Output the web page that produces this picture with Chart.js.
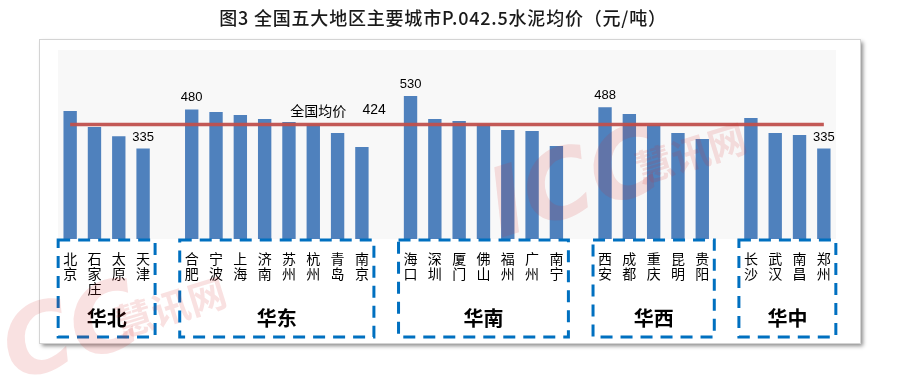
<!DOCTYPE html>
<html><head><meta charset="utf-8">
<script src="https://cdn.jsdelivr.net/npm/chart.js@4/dist/chart.umd.min.js"></script>
<style>html,body{margin:0;padding:0;background:#fff}#wrap{width:900px;height:379px;position:relative}</style>
</head><body><div id="wrap"><canvas id="c" width="900" height="379"></canvas></div>
<script>
const chartTitle = '图3 全国五大地区主要城市P.042.5水泥均价（元/吨）';
const regions = ['华北', '华东', '华南', '华西', '华中'];
const northCities = ['北京', '石家庄', '太原', '天津'];
const northPrices = [474, 415, 381, 335];
const eastCities = ['合肥', '宁波', '上海', '济南', '苏州', '杭州', '青岛', '南京'];
const eastPrices = [480, 470, 459, 444, 433, 425, 393, 341];
const southCities = ['海口', '深圳', '厦门', '佛山', '福州', '广州', '南宁'];
const southPrices = [530, 444, 437, 425, 404, 400, 344];
const westCities = ['西安', '成都', '重庆', '昆明', '贵阳'];
const westPrices = [488, 463, 422, 393, 370];
const centralCities = ['长沙', '武汉', '南昌', '郑州'];
const centralPrices = [448, 393, 385, 335];
const nationalAverage = 424;
const nationalLabel = '全国均价';
const labeledCities = ['天津', '合肥', '海口', '西安', '郑州'];
const yMin = 0, yMax = 700;

const groupCities = [northCities, eastCities, southCities, westCities, centralCities];
const groupPrices = [northPrices, eastPrices, southPrices, westPrices, centralPrices];

// build category list with an empty slot between regions
const categories = [], barValues = [], regionSpans = [];
groupCities.forEach((cities, g) => {
  if (g > 0) { categories.push(['']); barValues.push(null); }
  const start = categories.length;
  cities.forEach((c, i) => { categories.push(c.split('')); barValues.push(groupPrices[g][i]); });
  regionSpans.push([start, categories.length - 1]);
});
const cityNames = categories.map(a => a.join(''));
const avgValues = categories.map(() => nationalAverage);

const CJK = '"Noto Sans CJK SC", "Noto Sans", sans-serif';

const decor = {
  id: 'decor',
  beforeDraw(chart) {
    const ctx = chart.ctx, a = chart.chartArea;
    ctx.save();
    ctx.fillStyle = '#fff';
    ctx.fillRect(0, 0, chart.width, chart.height);
    // frame with shadow
    ctx.shadowColor = 'rgba(0,0,0,0.45)';
    ctx.shadowBlur = 4; ctx.shadowOffsetX = 3; ctx.shadowOffsetY = 3;
    ctx.fillStyle = '#fff';
    ctx.fillRect(39, 39, 821, 304);
    ctx.shadowColor = 'transparent';
    ctx.strokeStyle = '#d4d4d4'; ctx.lineWidth = 1;
    ctx.strokeRect(39.5, 39.5, 821, 304);
    // plot background
    ctx.fillStyle = '#f8f8f8';
    ctx.fillRect(a.left, a.top, a.right - a.left, a.bottom - a.top);
    // title
    ctx.fillStyle = '#1a1a1a';
    ctx.font = '500 18px ' + CJK;
    if ('letterSpacing' in ctx) ctx.letterSpacing = '0.8px';
    ctx.textAlign = 'center'; ctx.textBaseline = 'middle';
    ctx.fillText(chartTitle, 443, 18);
    ctx.restore();
  },
  afterDraw(chart) {
    const ctx = chart.ctx, x = chart.scales.x, y = chart.scales.y;
    ctx.save();
    // value labels
    ctx.fillStyle = '#000';
    ctx.font = '13px "Liberation Sans", Arial, sans-serif';
    ctx.textAlign = 'center'; ctx.textBaseline = 'bottom';
    cityNames.forEach((n, i) => {
      if (labeledCities.includes(n)) ctx.fillText(String(barValues[i]), x.getPixelForValue(i), y.getPixelForValue(barValues[i]) - 5);
    });
    // national average label
    const ly = y.getPixelForValue(nationalAverage) - 14;
    ctx.textBaseline = 'middle';
    ctx.font = '14px ' + CJK;
    ctx.fillText(nationalLabel, x.getPixelForValue(10.2), ly);
    ctx.font = '14px "Liberation Sans", Arial, sans-serif';
    ctx.fillText(String(nationalAverage), x.getPixelForValue(12.5), ly);
    // region boxes
    const boxTop = chart.chartArea.bottom + 1, boxBottom = 337;
    regionSpans.forEach(([s, e], g) => {
      const l = x.getPixelForValue(s) - 12, r = x.getPixelForValue(e) + 12;
      ctx.strokeStyle = '#0070C0'; ctx.lineWidth = 3; ctx.setLineDash([12, 8]);
      ctx.strokeRect(l, boxTop, r - l, boxBottom - boxTop);
      ctx.setLineDash([]);
      ctx.fillStyle = '#000';
      ctx.font = 'bold 20px ' + CJK;
      ctx.textAlign = 'center'; ctx.textBaseline = 'middle';
      ctx.fillText(regions[g], (l + r) / 2, 318);
    });
    // watermarks
    ctx.fillStyle = 'rgba(215,40,40,0.14)';
    const mark = (cx, cy, s) => {
      ctx.save(); ctx.translate(cx, cy); ctx.rotate(-0.3);
      ctx.font = 'italic bold ' + (95 * s) + 'px "DejaVu Sans", sans-serif';
      ctx.textAlign = 'left'; ctx.textBaseline = 'alphabetic';
      ctx.fillText('ICC', 0, 0);
      ctx.font = 'bold ' + (38 * s) + 'px ' + CJK;
      ctx.fillText('慧讯网', 150 * s, -10 * s);
      ctx.restore();
    };
    mark(500, 238, 1);
    mark(-20, 392, 1);
    ctx.restore();
  }
};

new Chart(document.getElementById('c'), {
  data: {
    labels: categories,
    datasets: [
      { type: 'line', data: avgValues, borderColor: 'rgba(192,80,77,0.95)', borderWidth: 3.5, pointRadius: 0, order: 0 },
      { type: 'bar', data: barValues, backgroundColor: '#4F81BD', categoryPercentage: 1, barPercentage: 0.55, order: 1 }
    ]
  },
  options: {
    responsive: false, devicePixelRatio: 1, animation: false,
    layout: { padding: { left: 58, right: 64, top: 50, bottom: 40 } },
    plugins: { legend: { display: false }, tooltip: { enabled: false } },
    scales: {
      x: {
        grid: { display: false, drawTicks: false }, border: { display: false },
        ticks: { color: '#000', font: { size: 14, family: CJK, lineHeight: 1.07 }, padding: 12, maxRotation: 0, autoSkip: false },
        afterFit(s) { s.height = 100; }
      },
      y: { display: false, min: yMin, max: yMax }
    }
  },
  plugins: [decor]
});
</script></body></html>
